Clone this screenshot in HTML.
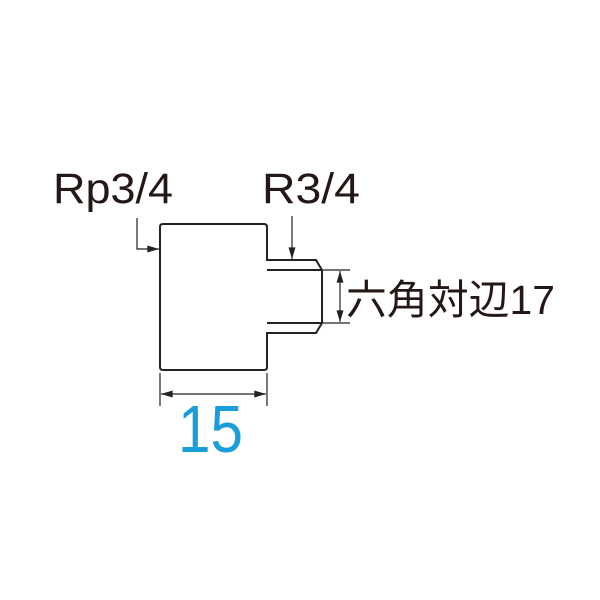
<!DOCTYPE html>
<html><head><meta charset="utf-8"><style>html,body{margin:0;padding:0;background:#fff}svg{display:block}</style></head>
<body>
<svg width="600" height="600" viewBox="0 0 600 600" xmlns="http://www.w3.org/2000/svg">
<defs>
<marker id="a" viewBox="0 0 10 6" refX="10" refY="3" markerWidth="12" markerHeight="7" markerUnits="userSpaceOnUse" orient="auto"><path d="M0,0 L10,3 L0,6 z" fill="#222"/></marker>
<marker id="b" viewBox="0 0 10 6" refX="10" refY="3" markerWidth="14" markerHeight="7" markerUnits="userSpaceOnUse" orient="auto-start-reverse"><path d="M0,0 L10,3 L0,6 z" fill="#222"/></marker>
</defs>
<g fill="none" stroke="#222" stroke-width="2">
<path d="M267,260 L267,227 Q267,224 264,224 L163,224 Q160,224 160,227 L160,367 Q160,370 163,370 L264,370 Q267,370 267,367 L267,333 L316,333 L322,323 L322,270 L316,260 Z"/>
<line x1="267" y1="270" x2="322" y2="270"/>
<line x1="267" y1="323" x2="322" y2="323"/>
</g>
<g fill="none" stroke="#222" stroke-width="1.2">
<polyline points="137,218 137,249 159,249" marker-end="url(#a)"/>
<line x1="292" y1="216" x2="292" y2="259" marker-end="url(#a)"/>
<line x1="323" y1="270" x2="350" y2="270"/>
<line x1="323" y1="323" x2="350" y2="323"/>
<line x1="340" y1="271" x2="340" y2="322" marker-start="url(#b)" marker-end="url(#b)"/>
<line x1="160" y1="373" x2="160" y2="406"/>
<line x1="267" y1="373" x2="267" y2="406"/>
<line x1="161" y1="394" x2="266" y2="394" marker-start="url(#b)" marker-end="url(#b)"/>
</g>
<g font-family="'Liberation Sans','Noto Sans CJK JP',sans-serif" fill="#231815">
<text x="53" y="203" font-size="43" textLength="120" lengthAdjust="spacingAndGlyphs">Rp3/4</text>
<text x="262" y="203" font-size="43" textLength="98" lengthAdjust="spacingAndGlyphs">R3/4</text>
<text x="346" y="314" font-size="41" textLength="209" lengthAdjust="spacingAndGlyphs">六角対辺17</text>
<text x="178" y="452" font-size="67" fill="#1a9ddb" textLength="65" lengthAdjust="spacingAndGlyphs">15</text>
</g>
</svg>
</body></html>
